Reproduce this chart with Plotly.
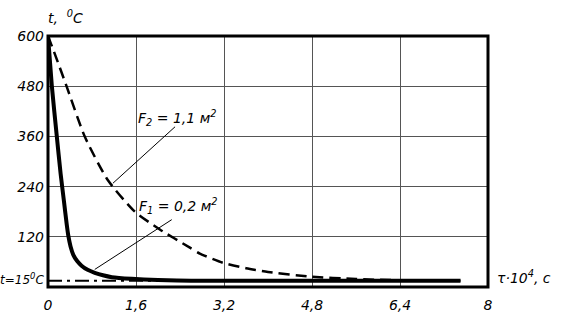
import plotly.graph_objects as go

# F1 = 0.2 m^2 (thick solid)
f1_tau = [0, 0.07, 0.16, 0.23, 0.29, 0.34, 0.37, 0.41, 0.46, 0.53, 0.61, 0.72, 0.85, 1.0, 1.16, 1.52, 2.0, 2.6, 7.5]
f1_t = [600, 480, 360, 270, 205, 150, 122, 97, 77, 62, 51, 41, 34, 28, 23.5, 19.5, 16.5, 15, 15]

# F2 = 1.1 m^2 (dashed)
f2_tau = [0, 0.13, 0.34, 0.67, 1.09, 1.58, 2.04, 2.58, 2.76, 3.18, 3.6, 4.0, 4.76, 5.6, 6.4]
f2_t = [600, 555, 479, 359, 255, 180, 137, 94, 80, 58, 45, 36, 25, 19, 16]

# ambient temperature line
amb_tau = [0, 7.5]
amb_t = [15, 15]
amb_label = "t=15<sup>0</sup>C"

x_ticks = [0, 1.6, 3.2, 4.8, 6.4, 8]
x_labels = ["0", "1,6", "3,2", "4,8", "6,4", "8"]
y_ticks = [120, 240, 360, 480, 600]
y_labels = ["120", "240", "360", "480", "600"]

FONT = "DejaVu Sans, sans-serif"

fig = go.Figure()
fig.add_trace(go.Scatter(x=amb_tau, y=amb_t, mode="lines",
                         line=dict(color="black", width=2, dash="14px,5px,3px,5px"),
                         hoverinfo="skip", showlegend=False))
fig.add_trace(go.Scatter(x=f2_tau, y=f2_t, mode="lines",
                         line=dict(color="black", width=2.5, dash="11px,6px", shape="spline", smoothing=0.6),
                         showlegend=False))
fig.add_trace(go.Scatter(x=f1_tau, y=f1_t, mode="lines",
                         line=dict(color="black", width=4, shape="spline", smoothing=0.6),
                         showlegend=False))

# leader lines
fig.add_shape(type="line", x0=1.18, y0=248, x1=2.31, y1=383, line=dict(color="black", width=1))
fig.add_shape(type="line", x0=0.85, y0=42, x1=2.25, y1=161, line=dict(color="black", width=1))

# thick frame
fig.add_shape(type="rect", xref="paper", yref="paper", x0=0, y0=0, x1=1, y1=1,
              line=dict(color="black", width=3))

italic = dict(family=FONT, size=14, color="black", style="italic")
italic_small = dict(family=FONT, size=12, color="black", style="italic")

fig.add_annotation(x=2.35, y=404, text="F<sub>2</sub> = 1,1 м<sup>2</sup>", showarrow=False, font=italic)
fig.add_annotation(x=2.37, y=194, text="F<sub>1</sub> = 0,2 м<sup>2</sup>", showarrow=False, font=italic)
fig.add_annotation(xref="paper", yref="paper", x=0, y=1, xanchor="left", yanchor="bottom",
                   xshift=-2, yshift=8, text="t,  <sup>0</sup>C", showarrow=False, font=italic)
fig.add_annotation(xref="paper", yref="y", x=1, y=15, xanchor="left", yanchor="middle",
                   xshift=7, yshift=4, text="τ·10<sup>4</sup>, c", showarrow=False, font=italic)
fig.add_annotation(xref="paper", yref="y", x=0, y=15, xanchor="right", yanchor="middle",
                   xshift=-2, yshift=2, text=amb_label, showarrow=False, font=italic_small)

fig.update_xaxes(range=[0, 8], tickvals=x_ticks, ticktext=x_labels, showgrid=True,
                 gridcolor="#555555", gridwidth=1, zeroline=False, showline=False,
                 ticks="", tickfont=italic, ticklabelstandoff=8, automargin=False)
fig.update_yaxes(range=[0, 600], tickvals=y_ticks, ticktext=y_labels, showgrid=True,
                 gridcolor="#555555", gridwidth=1, zeroline=False, showline=False,
                 ticks="", tickfont=italic, ticklabelstandoff=3, automargin=False)

fig.update_layout(width=563, height=318, margin=dict(l=48, r=75, t=36, b=31),
                  plot_bgcolor="white", paper_bgcolor="white", showlegend=False)

fig.write_html("out.html")
